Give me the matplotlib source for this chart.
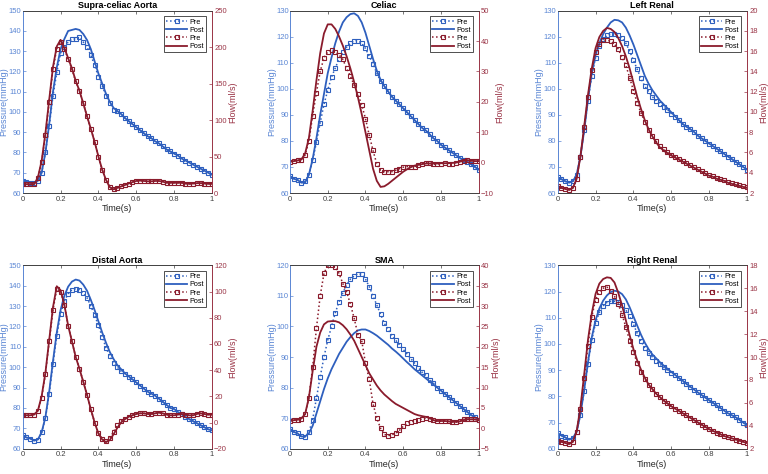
import numpy as np
import matplotlib.pyplot as plt

t = np.round(np.arange(0, 1.0001, 0.02), 2)

# ---- Supra-celiac Aorta
sca_p_pre = [66, 65.5, 65, 65, 66, 70, 80, 93, 108, 119.5, 129, 132, 134.5, 136, 136, 137, 134.5, 132, 128, 123,
             117.5, 113, 108, 104.5, 101, 100.5, 99, 97, 95.5, 94, 92.5, 91, 89.5, 88, 87, 85.5, 84.5, 83, 81.5, 80.5,
             79.5, 78.5, 77, 76, 75, 74, 73, 72, 71, 70, 69]
sca_p_post = [66, 65.5, 65, 65, 66, 70, 80, 94, 110, 122, 131, 136, 140, 140.5, 141, 140.5, 138.5, 135.5, 131, 125,
              119, 114, 109, 105, 102, 100.5, 99, 97, 95.5, 94, 92.5, 91, 89.5, 88, 87, 85.5, 84.5, 83, 81.5, 80.5,
              79.5, 78.5, 77, 76, 75, 74, 73, 72, 71, 70, 69]
sca_q_pre = [13, 12, 12, 12, 20, 42, 80, 125, 170, 198, 207, 197, 184, 170, 153, 140, 123, 105, 88, 70,
             50, 32, 18, 8, 5, 7, 9, 11, 13, 15, 16.5, 17, 16.5, 16, 16, 16.5, 16.5, 15.5, 14, 14,
             14, 14, 14, 13, 12.5, 13, 13.5, 13.5, 13, 12.5, 12.5]
sca_q_post = [13, 12, 12, 12, 21, 44, 82, 128, 173, 201, 210, 199, 185, 171, 154, 140, 123, 105, 88, 70,
              50, 32, 18, 8, 5, 7, 9, 11, 13, 15, 16.5, 17, 16.5, 16, 16, 16.5, 16.5, 15.5, 14, 14,
              14, 14, 14, 13, 12.5, 13, 13.5, 13.5, 13, 12.5, 12.5]

# ---- Celiac
cel_p_pre = [66.5, 65.5, 65, 64, 64.5, 67, 72.5, 79.5, 87, 94, 99.5, 104.5, 108, 111.5, 114, 116, 117.5, 118.5, 118.5, 117.5,
             115.5, 112.5, 109.5, 106, 103, 101, 99, 97, 95.5, 94, 92.5, 91, 89.5, 88, 86.5, 85, 84, 82.5, 81, 80,
             78.5, 77.5, 76.5, 75.5, 74.5, 73.5, 72.5, 72, 71, 70, 69]
cel_p_post = [66.5, 65.5, 65, 64, 64, 67, 73, 81, 90, 98, 106, 112, 117.5, 122, 125.5, 127.5, 128.7, 129, 128, 125.5,
              121.5, 116.5, 111.5, 107, 103.5, 101, 99, 97, 95.5, 94, 92.5, 91, 89.5, 88, 86.5, 85, 84, 82.5, 81, 80,
              78.5, 77.5, 76.5, 75.5, 74.5, 73.5, 72.5, 72, 71, 70, 69]
cel_q_pre = [0.3, 0.5, 0.7, 1, 2.5, 7, 15.5, 23, 30, 34.5, 36.5, 37, 36.5, 35.5, 34, 31, 28.5, 25.5, 22.5, 19,
             14.5, 9, 4, -0.5, -2.5, -3, -3, -3, -2.5, -2, -1.5, -1.3, -1.3, -1.3, -0.8, -0.3, 0, -0.2, -0.5, -0.5,
             -0.3, -0.2, -0.3, -0.3, 0, 0.3, 0.6, 0.8, 0.5, 0.4, 0.5]
cel_q_post = [0.3, 0.5, 0.7, 1, 3, 8, 17, 27, 36, 42.5, 45.5, 45.5, 44, 41.5, 38.5, 35, 31, 26.5, 21.5, 16,
              10, 4, -2, -6, -8, -7.8, -7, -6, -5, -4, -3, -2.2, -1.5, -1, -0.7, -0.5, -0.3, -0.3, -0.3, -0.3,
              -0.2, -0.2, -0.2, -0.1, 0, 0.3, 0.6, 0.8, 0.6, 0.5, 0.5]

# ---- Left Renal
lr_p_pre = [66, 65.3, 64.5, 64, 64.5, 67, 74, 84, 95.5, 105, 112, 116.5, 119, 120.5, 121, 121, 120.5, 119.5, 117.5, 114.5,
            111, 107.5, 104, 101, 99, 97, 95.5, 94, 93, 92, 90.5, 89, 88, 86.5, 85.5, 84.5, 83.5, 82, 81, 80,
            79, 78, 77, 76, 75, 74, 73, 72, 71, 70, 69]
lr_p_post = [66, 65.3, 64.5, 64, 64.5, 67, 74, 84, 96, 106, 113, 117.5, 121, 123.5, 125.5, 126.5, 126.3, 125.5, 123.5, 120.5,
             117, 113, 109, 105, 102, 99.5, 97.5, 95.5, 94, 92.5, 91, 89.5, 88, 86.5, 85.5, 84.5, 83.5, 82, 81, 80,
             79, 78, 77, 76, 75, 74, 73, 72, 71, 70, 69]
lr_q_pre = [2.7, 2.5, 2.4, 2.3, 2.5, 3.4, 5.6, 8.5, 11.5, 14.1, 15.9, 16.7, 17.1, 17.1, 17.0, 16.7, 16.2, 15.4, 14.6, 13.4,
            12.1, 10.9, 9.9, 9.0, 8.2, 7.6, 7.1, 6.6, 6.3, 6.0, 5.8, 5.6, 5.4, 5.2, 5.0, 4.8, 4.6, 4.4, 4.2, 4.0,
            3.8, 3.7, 3.5, 3.4, 3.3, 3.1, 3.0, 2.9, 2.8, 2.7, 2.6]
lr_q_post = [2.7, 2.5, 2.4, 2.3, 2.5, 3.4, 5.6, 8.6, 11.7, 14.3, 16.3, 17.4, 18.0, 18.3, 18.2, 17.9, 17.3, 16.5, 15.5, 14.3,
             12.9, 11.5, 10.3, 9.2, 8.3, 7.6, 7.0, 6.5, 6.2, 5.9, 5.7, 5.5, 5.3, 5.1, 4.9, 4.7, 4.5, 4.3, 4.1, 3.9,
             3.7, 3.6, 3.4, 3.3, 3.2, 3.0, 2.9, 2.8, 2.7, 2.6, 2.5]

# ---- Distal Aorta
da_p_pre = [66.5, 65.5, 65, 64, 64.5, 68, 75, 87, 101.5, 115.5, 126, 132.5, 136, 138, 138.5, 138, 136.5, 134, 130, 125.5,
            120.5, 115, 109.5, 105.5, 102, 100, 98, 96.5, 95, 94, 92.5, 91, 89.5, 88, 87, 86, 84.5, 83, 81.5, 80,
            79.5, 78, 77, 75.5, 74.5, 73.5, 72.5, 71.5, 70.5, 69.5, 69]
da_p_post = [66.5, 65.5, 65, 64, 64.5, 68, 75.5, 88, 103, 117, 128, 135, 139.5, 142, 143, 142.5, 140.5, 137.5, 133, 128,
             122.5, 117, 112, 107.5, 104, 101, 99, 97, 95.5, 94, 92.5, 91, 89.5, 88, 87, 86, 84.5, 83, 81.5, 80,
             79.5, 78, 77, 75.5, 74.5, 73.5, 72.5, 71.5, 70.5, 69.5, 69]
da_q_pre = [5.5, 5.5, 5.5, 6, 9, 19, 37, 62, 86, 102, 100, 90, 74, 62, 50, 41, 31, 21, 10, 0,
            -8, -12.5, -14, -12, -7, -2, 1, 3, 4.5, 5.5, 6.5, 7, 7, 6.5, 6.5, 7, 7.5, 7, 6, 5.5,
            5.5, 6, 6.5, 6, 5.5, 5.5, 6.5, 7, 6.5, 6, 6]
da_q_post = [5.5, 5.5, 5.5, 6, 9, 20, 38, 63, 88, 104, 101, 90, 74, 62, 50, 41, 31, 21, 10, 0,
             -8.5, -13, -15, -13.5, -9, -4, 0, 2.5, 4.5, 5.5, 6.5, 7, 7, 6.5, 6.5, 7, 7.5, 7, 6, 5.5,
             5.5, 6, 6.5, 6, 5.5, 5.5, 6.5, 7, 6.5, 6, 6]

# ---- SMA
sma_p_pre = [66.5, 65.5, 65, 64, 63.8, 65.5, 69.5, 76.5, 83.5, 90, 95.5, 100, 104.5, 108, 111, 113.5, 115.5, 116.5, 117.3, 117,
             115.5, 113, 110, 107, 104, 101, 99, 97, 95.5, 94, 92.5, 91, 89.5, 88, 86.5, 85, 84, 82.5, 81.5, 80,
             79, 78, 77, 76, 75, 74, 73, 72, 71, 70.5, 69.5]
sma_p_post = [66.5, 65.5, 65, 64, 64, 65, 67.5, 71.5, 75.5, 79.5, 83, 86, 88.5, 91, 93, 95, 96.5, 97.8, 98.7, 99,
              99, 98.5, 97.8, 97, 96, 95, 94, 92.8, 91.8, 90.7, 89.5, 88.3, 87.2, 86, 85, 84, 83, 82, 81, 80,
              79, 78, 77, 76, 75, 74, 73, 72, 71, 70.3, 69.5]
sma_q_pre = [1.8, 2, 2.1, 2.4, 3.5, 7.5, 15, 24.5, 32.5, 38, 40, 40, 39.5, 38, 35.5, 33.5, 30.5, 27, 23, 21.5,
             16, 12, 6, 2.5, 0, -1.5, -1.8, -1.6, -1.2, -0.5, 0.5, 1.2, 1.6, 1.8, 2, 2.3, 2.5, 2.3, 2, 1.7,
             1.8, 1.8, 1.7, 1.6, 1.5, 1.7, 2.2, 2.3, 2.2, 2.2, 2]
sma_q_post = [1.8, 2, 2.1, 2.4, 3.5, 7.5, 14, 20, 23.5, 25.5, 26.2, 26.3, 26.3, 26, 25.3, 24.3, 23, 21.5, 19.5, 17.5,
              15.5, 13.5, 12, 10.5, 9.3, 8.3, 7.5, 6.7, 6, 5.5, 5, 4.5, 4, 3.5, 3.2, 3, 2.8, 2.5, 2, 1.8,
              1.8, 1.8, 1.7, 1.6, 1.6, 1.7, 2, 2.2, 2.2, 2.2, 2]

# ---- Right Renal
rr_p_pre = [66, 65, 64.3, 63.5, 64, 66.5, 73, 82, 92.5, 101.5, 108, 112, 114.5, 115.8, 116.3, 116.3, 116, 115, 113, 110.5,
            107.5, 104, 101, 98.5, 96.5, 95, 93.5, 92.3, 91, 90, 89, 88, 86.8, 85.8, 84.7, 83.5, 82.5, 81.5, 80.5, 79.5,
            78.5, 77.5, 76.5, 75.5, 74.5, 73.5, 72.8, 72, 71, 70, 69]
rr_p_post = [66, 65, 64.3, 63.5, 64, 66.5, 73, 82.5, 93, 102.5, 109, 113.5, 116.5, 118.5, 119.8, 120.3, 120, 119, 117, 114,
             110.5, 107, 103.5, 100.5, 98, 96, 94.5, 93, 91.7, 90.5, 89.3, 88.2, 87, 86, 84.8, 83.7, 82.6, 81.5, 80.5, 79.5,
             78.5, 77.5, 76.5, 75.5, 74.5, 73.5, 72.8, 72, 71, 70, 69]
rr_q_pre = [2.7, 2.6, 2.5, 2.4, 2.6, 3.5, 5.5, 8.2, 11, 13.5, 15, 15.7, 16, 16.1, 15.8, 15.3, 14.6, 13.7, 12.6, 11.4,
            10.4, 9.5, 8.7, 8.1, 7.6, 7.2, 6.8, 6.5, 6.2, 5.95, 5.7, 5.5, 5.3, 5.1, 4.9, 4.7, 4.5, 4.3, 4.1, 3.9,
            3.7, 3.55, 3.4, 3.25, 3.1, 3.0, 2.9, 2.8, 2.7, 2.6, 2.5]
rr_q_post = [2.7, 2.6, 2.5, 2.4, 2.6, 3.5, 5.6, 8.5, 11.5, 13.8, 15.5, 16.4, 16.8, 16.95, 16.9, 16.5, 15.6, 14.5, 13.2, 11.9,
             10.7, 9.7, 8.9, 8.2, 7.6, 7.2, 6.8, 6.5, 6.2, 5.95, 5.7, 5.5, 5.3, 5.1, 4.9, 4.7, 4.5, 4.3, 4.1, 3.9,
             3.7, 3.55, 3.4, 3.25, 3.1, 3.0, 2.9, 2.8, 2.7, 2.6, 2.5]

titles = ["Supra-celiac Aorta", "Celiac", "Left Renal", "Distal Aorta", "SMA", "Right Renal"]
data = [(sca_p_pre, sca_p_post, sca_q_pre, sca_q_post),
        (cel_p_pre, cel_p_post, cel_q_pre, cel_q_post),
        (lr_p_pre, lr_p_post, lr_q_pre, lr_q_post),
        (da_p_pre, da_p_post, da_q_pre, da_q_post),
        (sma_p_pre, sma_p_post, sma_q_pre, sma_q_post),
        (rr_p_pre, rr_p_post, rr_q_pre, rr_q_post)]
p_lims = [(60, 150, 10), (60, 130, 10), (60, 130, 10), (60, 150, 10), (60, 120, 10), (60, 130, 10)]
q_lims = [(0, 250, 50), (-10, 50, 10), (2, 20, 2), (-20, 120, 20), (-5, 40, 5), (2, 18, 2)]

# axes boxes in pixels: left, right, top, bottom
boxes = [(22.7, 212, 10.7, 193), (290, 478.7, 10.7, 193), (557.7, 747, 10.7, 193),
         (22.7, 212, 265.3, 448.7), (290, 478.7, 265.3, 448.7), (557.7, 747, 265.3, 448.7)]

blue = "#2E5FBE"
blue_txt = "#5A86D4"
red = "#8A1B2C"
red_txt = "#9A3446"
W, H = 768, 474

fig = plt.figure(figsize=(7.68, 4.74), dpi=100)
plt.rcParams['font.family'] = ['Liberation Sans', 'DejaVu Sans']

for i in range(6):
    l, r, tp, b = boxes[i]
    ax = fig.add_axes([l / W, 1 - b / H, (r - l) / W, (b - tp) / H])
    ax2 = ax.twinx()
    ppre, ppost, qpre, qpost = data[i]
    h1, = ax.plot(t, ppre, ':', color=blue, lw=1.1, marker='s', ms=3.2, mfc='none', mew=0.8, label="Pre")
    h2, = ax.plot(t, ppost, '-', color=blue, lw=1.3, label="Post")
    h3, = ax2.plot(t, qpre, ':', color=red, lw=1.1, marker='s', ms=3.2, mfc='none', mew=0.8, label="Pre")
    h4, = ax2.plot(t, qpost, '-', color=red, lw=1.3, label="Post")

    ax.set_xlim(0, 1)
    ax.set_ylim(p_lims[i][0], p_lims[i][1])
    ax.set_yticks(np.arange(p_lims[i][0], p_lims[i][1] + 0.1, p_lims[i][2]))
    ax2.set_ylim(q_lims[i][0], q_lims[i][1])
    ax2.set_yticks(np.arange(q_lims[i][0], q_lims[i][1] + 0.1, q_lims[i][2]))
    ax.set_xticks([0, 0.2, 0.4, 0.6, 0.8, 1])
    ax.set_xticklabels(["0", "0.2", "0.4", "0.6", "0.8", "1"])

    ax.tick_params(axis='x', direction='in', labelsize=5.5, length=2, width=0.5, colors='#404040', top=True, pad=2)
    ax.tick_params(axis='y', direction='in', labelsize=5.5, length=2, width=0.5, colors=blue_txt, pad=1)
    ax2.tick_params(axis='y', direction='in', labelsize=5.5, length=2, width=0.5, colors=red_txt, pad=1.5)
    for a in (ax, ax2):
        a.spines['top'].set_color('#404040')
        a.spines['bottom'].set_color('#404040')
        for s in a.spines.values():
            s.set_linewidth(0.6)
    ax2.spines['left'].set_color(blue_txt)
    ax2.spines['right'].set_color(red_txt)
    ax.spines['left'].set_color(blue_txt)
    ax.spines['right'].set_color(red_txt)

    ax.set_xlabel("Time(s)", fontsize=6.5, labelpad=1, color='#262626')
    ax.set_ylabel("Pressure(mmHg)", fontsize=6.5, labelpad=0, color=blue_txt)
    ax2.set_ylabel("Flow(ml/s)", fontsize=6.5, labelpad=1, color=red_txt)
    ax.set_title(titles[i], fontsize=6.5, fontweight='bold', pad=2)

    leg = ax2.legend([h1, h2, h3, h4], ["Pre", "Post", "Pre", "Post"], loc='upper right',
                     fontsize=5.2, frameon=True, fancybox=False, edgecolor='black',
                     handlelength=3, borderpad=0.3, labelspacing=0.15, handletextpad=0.3,
                     borderaxespad=0.8)
    leg.get_frame().set_linewidth(0.6)

fig.savefig("out.png", dpi=100)
